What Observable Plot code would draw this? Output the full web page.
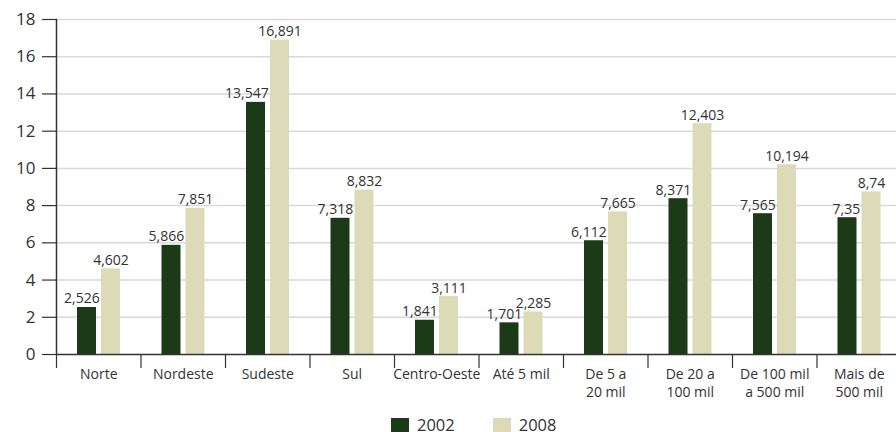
<!DOCTYPE html>
<html>
<head>
<meta charset="utf-8">
<script src="https://cdn.jsdelivr.net/npm/d3@7"></script>
<script src="https://cdn.jsdelivr.net/npm/@observablehq/plot@0.6"></script>
<style>
  html, body { margin: 0; padding: 0; background: #fff; }
  body { width: 896px; height: 432px; overflow: hidden; font-family: "Open Sans", sans-serif; color: #333; }
  #chart svg { display: block; }
  .legend { display: flex; align-items: flex-start; padding-top: 8px; margin-left: 391px; font-size: 16.5px; }
  .legend .item { display: flex; align-items: flex-start; }
  .legend .sw { width: 18px; height: 14px; margin-right: 8px; }
  .legend .lbl { line-height: 12px; height: 12px; padding-top: 1px; }
  .legend .item + .item { margin-left: 38px; }
</style>
</head>
<body>
<div id="chart"></div>
<div class="legend" id="legend"></div>
<script>
// Categories: regions, then municipality size classes
const categories = ["Norte", "Nordeste", "Sudeste", "Sul", "Centro-Oeste", "Até 5 mil",
  "De 5 a\n20 mil", "De 20 a\n100 mil", "De 100 mil\na 500 mil", "Mais de\n500 mil"];
const values2002 = [2.526, 5.866, 13.547, 7.318, 1.841, 1.701, 6.112, 8.371, 7.565, 7.35];
const values2008 = [4.602, 7.851, 16.891, 8.832, 3.111, 2.285, 7.665, 12.403, 10.194, 8.74];
const years = ["2002", "2008"];
const yTicks = [0, 2, 4, 6, 8, 10, 12, 14, 16, 18];

const colors = {"2002": "#1c3a17", "2008": "#dddbb7"};

const rows = categories.map((cat, i) => ({cat, v2002: values2002[i], v2008: values2008[i]}));
const fmt = v => String(v).replace(".", ",");

const chart = Plot.plot({
  width: 896,
  height: 410,
  marginLeft: 56,
  marginRight: 0,
  marginTop: 19,
  marginBottom: 56,
  style: {fontFamily: "'Open Sans', sans-serif", color: "#333", background: "#fff"},
  x: {domain: categories, range: [56, 901], padding: 0, round: false, axis: null},
  y: {domain: [0, 18], axis: null},
  marks: [
    Plot.gridY(yTicks.slice(1), {stroke: "#d9d9d9", strokeOpacity: 1, strokeWidth: 1.5}),
    Plot.axisY(yTicks, {tickSize: 14, tickPadding: 7, fontSize: 17, stroke: "#333", strokeWidth: 1.2, label: null}),
    Plot.barY(rows, {x: "cat", y: "v2002", fill: colors["2002"], insetLeft: 21, insetRight: 44.5}),
    Plot.barY(rows, {x: "cat", y: "v2008", fill: colors["2008"], insetLeft: 45, insetRight: 20.5}),
    Plot.text(rows, {x: "cat", y: "v2002", text: d => fmt(d.v2002), textAnchor: "end", lineAnchor: "bottom", dx: 1, dy: -4, fontSize: 14, fill: "#333"}),
    Plot.text(rows, {x: "cat", y: "v2008", text: d => fmt(d.v2008), textAnchor: "middle", lineAnchor: "bottom", dx: 12.25, dy: -4, fontSize: 14, fill: "#333"}),
    Plot.ruleY([0], {stroke: "#333", strokeWidth: 1.5}),
    Plot.frame({anchor: "left", stroke: "#333", strokeWidth: 1.5}),
    // separators between categories, below the baseline
    Plot.axisX({tickSize: 14, tickFormat: () => "", dx: -42.25, stroke: "#333", strokeWidth: 1.2, label: null}),
    Plot.axisX({tickSize: 0, tickPadding: 12, fontSize: 14, lineHeight: 1.28, fill: "#333", label: null})
  ]
});
document.getElementById("chart").appendChild(chart);

const legend = document.getElementById("legend");
for (const y of years) {
  const item = document.createElement("div");
  item.className = "item";
  const sw = document.createElement("span");
  sw.className = "sw";
  sw.style.background = colors[y];
  const label = document.createElement("span");
  label.className = "lbl";
  label.textContent = y;
  item.append(sw, label);
  legend.append(item);
}
</script>
</body>
</html>
